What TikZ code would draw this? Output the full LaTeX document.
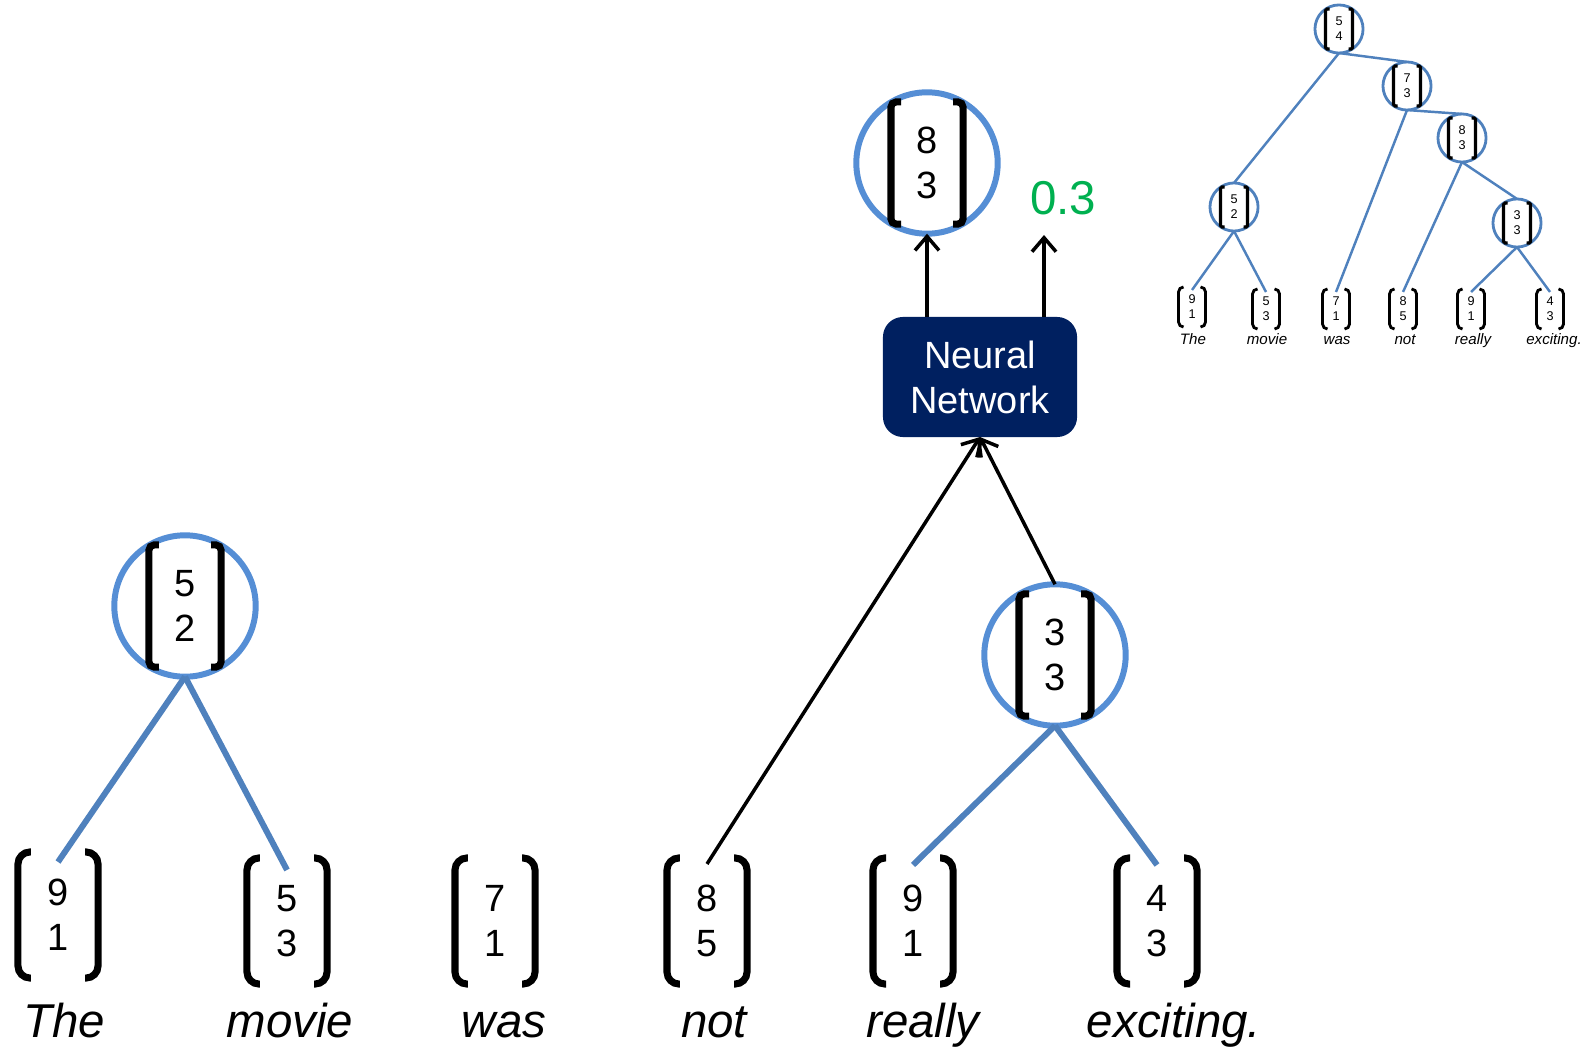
\documentclass[tikz,border=0pt]{standalone}
\usepackage{fontspec}
\setmainfont{Liberation Sans}
\usetikzlibrary{positioning, fit, arrows.meta}
\definecolor{ringblue}{RGB}{85,142,213}
\definecolor{edgeblue}{RGB}{79,129,189}
\definecolor{netnavy}{RGB}{0,32,96}
\definecolor{scoregreen}{RGB}{0,176,80}

\begin{document}
\begin{tikzpicture}
    [x=0.01cm, y=-0.01cm, outer sep=0pt,
    vec/.style={rectangle, inner sep=0pt, minimum width=0.80cm,
      minimum height=1.26cm, align=center,
      font=\fontsize{10.8}{12.8}\selectfont},
    cvec/.style={vec, minimum width=0.72cm, minimum height=1.22cm},
    ring/.style={circle, draw=ringblue, line width=1.7pt, inner sep=0pt},
    word/.style={anchor=base, font=\fontsize{13.5}{15}\selectfont\itshape},
    paren/.style={line width=2pt, rounded corners=0.12cm},
    sqbrk/.style={line width=2pt, rounded corners=0.05cm},
    branch/.style={draw=edgeblue, line width=1.7pt},
    feed/.style={line width=1pt, -{Straight Barb[length=0.14cm, width=0.24cm]}},
    netbox/.style={rectangle, fill=netnavy, rounded corners=0.2cm,
      minimum width=1.94cm, minimum height=1.20cm, text=white,
      align=center, font=\fontsize{10.8}{12.8}\selectfont},
    score/.style={text=scoregreen, font=\fontsize{13.5}{15}\selectfont},
    minivec/.style={rectangle, inner sep=0pt, minimum width=0.27cm,
      minimum height=0.40cm, align=center,
      font=\fontsize{3.6}{4.3}\selectfont},
    miniring/.style={circle, draw=edgeblue, line width=0.8pt, inner sep=0pt},
    miniword/.style={anchor=base, font=\fontsize{4.3}{5}\selectfont\itshape},
    miniparen/.style={line width=0.8pt, rounded corners=0.05cm},
    minisqbrk/.style={line width=0.9pt, rounded corners=0.015cm},
    minibranch/.style={draw=edgeblue, line width=0.7pt}]

    \useasboundingbox (0,0) rectangle (1595,1049);

    % word vectors
    \node[vec] (leaf_the) at (58,915) {9\\1};
    \node[vec] (leaf_movie) at (287,921) {5\\3};
    \node[vec] (leaf_was) at (495,921) {7\\1};
    \node[vec] (leaf_not) at (707,921) {8\\5};
    \node[vec] (leaf_really) at (913,921) {9\\1};
    \node[vec] (leaf_exciting) at (1157,921) {4\\3};

    \node[word] (word_the) at (64,1037) {The};
    \node[word] (word_movie) at (290,1037) {movie};
    \node[word] (word_was) at (504,1037) {was};
    \node[word] (word_not) at (714,1037) {not};
    \node[word] (word_really) at (923,1037) {really};
    \node[word] (word_exciting) at (1174,1037) {exciting.};

    % merged vectors
    \node[cvec] (vec_52) at (185,606) {5\\2};
    \node[ring, fit=(vec_52)] (ring_52) {};
    \node[cvec] (vec_33) at (1055,655) {3\\3};
    \node[ring, fit=(vec_33)] (ring_33) {};
    \node[cvec] (vec_83) at (927,163) {8\\3};
    \node[ring, fit=(vec_83)] (ring_83) {};

    \foreach \n in {leaf_the, leaf_movie, leaf_was, leaf_not, leaf_really,
      leaf_exciting} {
      \draw[paren] ([xshift=0.13cm]\n.north west) -- (\n.north west)
        -- (\n.south west) -- ([xshift=0.13cm]\n.south west);
      \draw[paren] ([xshift=-0.13cm]\n.north east) -- (\n.north east)
        -- (\n.south east) -- ([xshift=-0.13cm]\n.south east);
    }
    \foreach \n in {vec_52, vec_33, vec_83} {
      \draw[sqbrk] ([xshift=0.1cm]\n.north west) -- (\n.north west)
        -- (\n.south west) -- ([xshift=0.1cm]\n.south west);
      \draw[sqbrk] ([xshift=-0.1cm]\n.north east) -- (\n.north east)
        -- (\n.south east) -- ([xshift=-0.1cm]\n.south east);
    }

    \draw[branch] (ring_52.south) -- ([yshift=-0.1cm]leaf_the.north);
    \draw[branch] (ring_52.south) -- ([yshift=-0.12cm]leaf_movie.north);
    \draw[branch] (ring_33.south) -- ([yshift=-0.07cm]leaf_really.north);
    \draw[branch] (ring_33.south) -- ([yshift=-0.07cm]leaf_exciting.north);

    % composition step
    \node[netbox] (nn) at (980,377) {Neural\\Network};
    \draw[feed] ([yshift=-0.06cm]leaf_not.north) -- (nn.south);
    \draw[feed] (ring_33.north) -- (nn.south);
    \draw[feed] (nn.north -| ring_83.south) -- (ring_83.south);
    \coordinate (score_tip) at (1044,235);
    \draw[feed] (nn.north -| score_tip) -- (score_tip);
    \node[score] (score) at (1063,198) {0.3};

    % full tree, small
    \node[minivec] (mini_the) at (1192,307) {9\\1};
    \node[minivec] (mini_movie) at (1266,309) {5\\3};
    \node[minivec] (mini_was) at (1336,309) {7\\1};
    \node[minivec] (mini_not) at (1403,309) {8\\5};
    \node[minivec] (mini_really) at (1471,309) {9\\1};
    \node[minivec] (mini_exciting) at (1550,309) {4\\3};

    \node[miniword] (miniw_the) at (1193,344) {The};
    \node[miniword] (miniw_movie) at (1267,344) {movie};
    \node[miniword] (miniw_was) at (1337,344) {was};
    \node[miniword] (miniw_not) at (1405,344) {not};
    \node[miniword] (miniw_really) at (1473,344) {really};
    \node[miniword] (miniw_exciting) at (1554,344) {exciting.};

    \node[minivec] (mvec_54) at (1339,29) {5\\4};
    \node[miniring, fit=(mvec_54)] (mini_54) {};
    \node[minivec] (mvec_73) at (1407,86) {7\\3};
    \node[miniring, fit=(mvec_73)] (mini_73) {};
    \node[minivec] (mvec_83) at (1462,138) {8\\3};
    \node[miniring, fit=(mvec_83)] (mini_83) {};
    \node[minivec] (mvec_52) at (1234,207) {5\\2};
    \node[miniring, fit=(mvec_52)] (mini_52) {};
    \node[minivec] (mvec_33) at (1517,223) {3\\3};
    \node[miniring, fit=(mvec_33)] (mini_33) {};

    \foreach \n in {mini_the, mini_movie, mini_was, mini_not, mini_really,
      mini_exciting} {
      \draw[miniparen] ([xshift=0.05cm]\n.north west) -- (\n.north west)
        -- (\n.south west) -- ([xshift=0.05cm]\n.south west);
      \draw[miniparen] ([xshift=-0.05cm]\n.north east) -- (\n.north east)
        -- (\n.south east) -- ([xshift=-0.05cm]\n.south east);
    }
    \foreach \n in {mvec_54, mvec_73, mvec_83, mvec_52, mvec_33} {
      \draw[minisqbrk] ([xshift=0.04cm]\n.north west) -- (\n.north west)
        -- (\n.south west) -- ([xshift=0.04cm]\n.south west);
      \draw[minisqbrk] ([xshift=-0.04cm]\n.north east) -- (\n.north east)
        -- (\n.south east) -- ([xshift=-0.04cm]\n.south east);
    }

    \draw[minibranch] (mini_54.south) -- (mini_52.north);
    \draw[minibranch] (mini_54.south) -- (mini_73.north);
    \draw[minibranch] (mini_73.south) -- (mini_83.north);
    \draw[minibranch] (mini_83.south) -- (mini_33.north);
    \draw[minibranch] (mini_52.south) -- ([yshift=-0.03cm]mini_the.north);
    \draw[minibranch] (mini_52.south) -- ([yshift=-0.03cm]mini_movie.north);
    \draw[minibranch] (mini_73.south) -- ([yshift=-0.03cm]mini_was.north);
    \draw[minibranch] (mini_83.south) -- ([yshift=-0.03cm]mini_not.north);
    \draw[minibranch] (mini_33.south) -- ([yshift=-0.03cm]mini_really.north);
    \draw[minibranch] (mini_33.south) -- ([yshift=-0.03cm]mini_exciting.north);
\end{tikzpicture}
\end{document}
